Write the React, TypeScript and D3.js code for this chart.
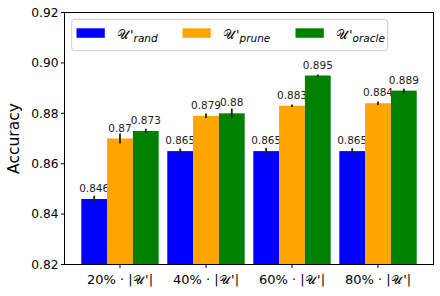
import React from "react";
import * as d3 from "d3";

const categories = ["20%", "40%", "60%", "80%"];
const seriesNames = ["rand", "prune", "oracle"];
const seriesColors = ["#0000ff", "#ffa500", "#008000"];
const randValues = [0.846, 0.865, 0.865, 0.865];
const pruneValues = [0.87, 0.879, 0.883, 0.884];
const oracleValues = [0.873, 0.88, 0.895, 0.889];
const randErr = [0.0013, 0.001, 0.0013, 0.0012];
const pruneErr = [0.002, 0.0009, 0.0005, 0.0007];
const oracleErr = [0.0009, 0.0019, 0.0004, 0.0008];
const randLabels = ["0.846", "0.865", "0.865", "0.865"];
const pruneLabels = ["0.87", "0.879", "0.883", "0.884"];
const oracleLabels = ["0.873", "0.88", "0.895", "0.889"];
const yTicks = [0.82, 0.84, 0.86, 0.88, 0.9, 0.92];

const W = 440;
const H = 296;
const FONT = "DejaVu Sans, sans-serif";

export default function App() {
  const left = 64.5;
  const right = 433.5;
  const top = 12.5;
  const bottom = 264.5;
  const x = d3.scaleLinear().domain([-0.645, 3.645]).range([left, right]);
  const y = d3.scaleLinear().domain([0.82, 0.92]).range([bottom, top]);
  const bw = 0.3;
  const series = [
    { vals: randValues, errs: randErr, labels: randLabels },
    { vals: pruneValues, errs: pruneErr, labels: pruneLabels },
    { vals: oracleValues, errs: oracleErr, labels: oracleLabels },
  ];
  const fmt = d3.format(".2f");

  const legendX = [76.5, 182.5, 295.5];

  return (
    <svg width={W} height={H} style={{ position: "absolute", left: 0, top: 0, fontFamily: FONT }}>
      <rect x={0} y={0} width={W} height={H} fill="#fff" />
      {series.map((s, si) =>
        s.vals.map((v, i) => {
          const cx = i + (si - 1) * bw;
          const x0 = x(cx - bw / 2);
          const x1 = x(cx + bw / 2);
          return (
            <g key={`b${si}-${i}`}>
              <rect x={x0} y={y(v)} width={x1 - x0} height={bottom - y(v)} fill={seriesColors[si]} />
              <line
                x1={x(cx)}
                x2={x(cx)}
                y1={y(v - s.errs[i])}
                y2={y(v + s.errs[i])}
                stroke="#222"
                strokeWidth={1.8}
              />
              <text
                x={x(cx)}
                y={y(v) - 7}
                textAnchor="middle"
                fontSize={10.5}
                fill="#222"
              >
                {s.labels[i]}
              </text>
            </g>
          );
        })
      )}
      {/* frame */}
      <rect x={left} y={top} width={right - left} height={bottom - top} fill="none" stroke="#000" strokeWidth={1} />
      {/* y ticks */}
      {yTicks.map((t) => (
        <g key={`y${t}`}>
          <line x1={left - 3.5} x2={left} y1={y(t)} y2={y(t)} stroke="#000" strokeWidth={1} />
          <text x={left - 6} y={y(t)} dy="0.36em" textAnchor="end" fontSize={12.2} fill="#000">
            {fmt(t)}
          </text>
        </g>
      ))}
      {/* x ticks */}
      {categories.map((c, i) => (
        <g key={`x${c}`}>
          <line x1={x(i)} x2={x(i)} y1={bottom} y2={bottom + 3.5} stroke="#000" strokeWidth={1} />
          <text x={x(i)} y={bottom + 19} textAnchor="middle" fontSize={13} fill="#000">
            {c} · |<tspan fontSize={12}>𝒰</tspan><tspan dx={1.5}>'</tspan>|
          </text>
        </g>
      ))}
      <text
        transform={`translate(19,${(top + bottom) / 2}) rotate(-90)`}
        textAnchor="middle"
        fontSize={15.5}
        fill="#000"
      >
        Accuracy
      </text>
      {/* legend */}
      <rect x={71.7} y={19.3} width={316} height={31.4} rx={3} ry={3} fill="#fff" fillOpacity={0.8} stroke="#cccccc" strokeWidth={1} />
      {seriesNames.map((n, si) => (
        <g key={`l${n}`}>
          <rect x={legendX[si]} y={28.3} width={28.3} height={9.5} fill={seriesColors[si]} />
          <text x={legendX[si] + 40} y={38.5} fontSize={13} fill="#000">
            <tspan>𝒰</tspan>
            <tspan dx={1.5} fontSize={13}>'</tspan>
            <tspan fontStyle="italic" fontSize={10.5} dy={3}>{n}</tspan>
          </text>
        </g>
      ))}
    </svg>
  );
}
